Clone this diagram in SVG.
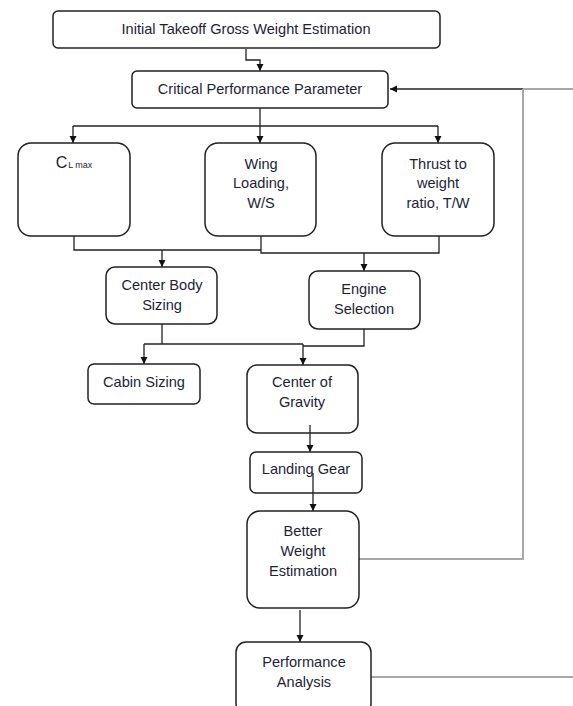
<svg xmlns="http://www.w3.org/2000/svg" width="573" height="706" viewBox="0 0 573 706">
<style>
.box{fill:#fff;stroke:#222;stroke-width:1.5}
.t{font-family:"Liberation Sans",Arial,sans-serif;font-size:14.6px;fill:#1e1e38;text-anchor:middle}
.c{fill:none;stroke:#222;stroke-width:1.3}
.g{fill:none;stroke:#a8a8a8;stroke-width:2}
</style>
<defs>
<marker id="ah" markerWidth="8" markerHeight="8" refX="7" refY="4" orient="auto" markerUnits="userSpaceOnUse">
<path d="M0,0.5 L7,4 L0,7.5 Z" fill="#111"/>
</marker>
</defs>
<rect width="573" height="706" fill="#fff"/>
<g id="connectors">
<path class="c" d="M246,49 V60 H260 V71" marker-end="url(#ah)"/>
<path class="g" d="M573,89 H523"/>
<path class="c" d="M523,89 H390" stroke-width="2" marker-end="url(#ah)"/>
<path class="g" d="M523,89 V559 H359"/>
<path class="g" d="M371,677 H573"/>
<path class="c" d="M260,108 V126"/>
<path class="c" d="M73,126 H438"/>
<path class="c" d="M73,126 V143" marker-end="url(#ah)"/>
<path class="c" d="M260,126 V143" marker-end="url(#ah)"/>
<path class="c" d="M438,126 V143" marker-end="url(#ah)"/>
<path class="c" d="M74,236 V250 H261"/>
<path class="c" d="M261,236 V253 H439 V236"/>
<path class="c" d="M162,250 V267" marker-end="url(#ah)"/>
<path class="c" d="M364,253 V271" marker-end="url(#ah)"/>
<path class="c" d="M162,324 V344"/>
<path class="c" d="M144,344 H303"/>
<path class="c" d="M364,329 V346 H303"/>
<path class="c" d="M144,344 V364" marker-end="url(#ah)"/>
<path class="c" d="M303,344 V365" marker-end="url(#ah)"/>
<path class="c" d="M310,425 V452" marker-end="url(#ah)"/>
<path class="c" d="M313,473 V511" stroke-width="1.8" marker-end="url(#ah)"/>
<path class="c" d="M300,610 V642" marker-end="url(#ah)"/>
</g>
<g id="n1"><rect class="box" x="53" y="11" width="387" height="37" rx="5"/><text class="t" x="246" y="34">Initial Takeoff Gross Weight Estimation</text></g>
<g id="n2"><rect class="box" x="132" y="71" width="256" height="37" rx="5"/><text class="t" x="260" y="94">Critical Performance Parameter</text></g>
<g id="n3"><rect class="box" x="18" y="143" width="112" height="93" rx="13"/><text class="t" x="74" y="168"><tspan font-size="16">C</tspan><tspan font-size="9" dx="1">L max</tspan></text></g>
<g id="n4"><rect class="box" x="205" y="143" width="111" height="93" rx="13"/><text class="t" x="261" y="169">Wing</text><text class="t" x="261" y="188">Loading,</text><text class="t" x="261" y="208">W/S</text></g>
<g id="n5"><rect class="box" x="382" y="143" width="112" height="93" rx="13"/><text class="t" x="438" y="169">Thrust to</text><text class="t" x="438" y="188">weight</text><text class="t" x="438" y="208">ratio, T/W</text></g>
<g id="n6"><rect class="box" x="106" y="267" width="111" height="57" rx="9"/><text class="t" x="162" y="290">Center Body</text><text class="t" x="162" y="310">Sizing</text></g>
<g id="n7"><rect class="box" x="309" y="271" width="111" height="58" rx="9"/><text class="t" x="364" y="294">Engine</text><text class="t" x="364" y="314">Selection</text></g>
<g id="n8"><rect class="box" x="88" y="364" width="112" height="40" rx="6"/><text class="t" x="144" y="387">Cabin Sizing</text></g>
<g id="n9"><rect class="box" x="247" y="365" width="111" height="68" rx="10"/><text class="t" x="302" y="387">Center of</text><text class="t" x="302" y="407">Gravity</text></g>
<g id="n10"><rect class="box" x="250" y="452" width="112" height="41" rx="6"/><text class="t" x="306" y="474">Landing Gear</text></g>
<g id="n11"><rect class="box" x="247" y="511" width="112" height="97" rx="13"/><text class="t" x="303" y="536">Better</text><text class="t" x="303" y="556">Weight</text><text class="t" x="303" y="576">Estimation</text></g>
<g id="n12"><rect class="box" x="236" y="642" width="135" height="72" rx="10"/><text class="t" x="304" y="667">Performance</text><text class="t" x="304" y="687">Analysis</text></g>
<path class="c" d="M313,473 V493" stroke-width="1.8"/>
<path class="c" d="M310,425 V433"/>
</svg>
